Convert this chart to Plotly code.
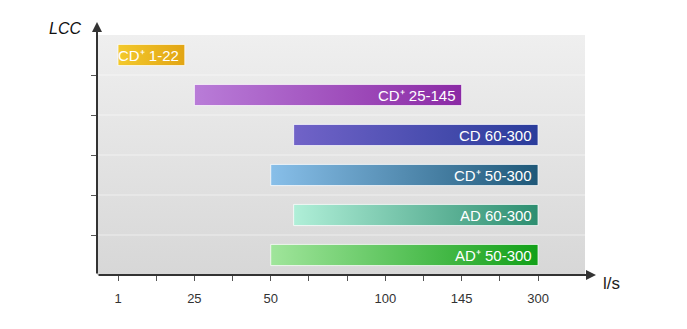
import numpy as np
import plotly.graph_objects as go

# Air-flow range of each unit (l/s)
units = ["CD⁺ 1-22", "CD⁺ 25-145", "CD 60-300", "CD⁺ 50-300", "AD 60-300", "AD⁺ 50-300"]
flow_min = [1, 25, 60, 50, 60, 50]
flow_max = [22, 145, 300, 300, 300, 300]

# Labelled flow values on the horizontal axis
tick_values = [1, 25, 50, 100, 145, 300]

# Non-uniform axis: each labelled value sits on one of 12 evenly spaced ticks
tick_slots = [0, 2, 4, 7, 9, 11]
n_slots = 12

bar_colors = [
    ("#f3c92c", "#e2a514"),
    ("#b97cd8", "#8b2aa5"),
    ("#7163c8", "#2a3c9b"),
    ("#88bfe9", "#1f5878"),
    ("#b0efd8", "#2d8e70"),
    ("#a0e59b", "#12a018"),
]


def to_axis(v):
    return float(np.interp(v, tick_values, tick_slots))


X_RANGE = [-0.55, 12.23]
Y_RANGE = [-0.5, 5.5]
HALF_H = 0.265

fig = go.Figure()

# plot-area background: soft vertical grey gradient
fig.add_trace(go.Scatter(
    x=[X_RANGE[0], X_RANGE[1], X_RANGE[1], X_RANGE[0], X_RANGE[0]],
    y=[Y_RANGE[0], Y_RANGE[0], Y_RANGE[1], Y_RANGE[1], Y_RANGE[0]],
    mode="lines", line=dict(width=0), fill="toself",
    fillgradient=dict(type="vertical", colorscale=[[0, "#d7d7d7"], [1, "#efefef"]]),
    hoverinfo="skip", showlegend=False,
))

# faint row separators
for k in range(1, len(units)):
    yb = k - 0.5
    fig.add_trace(go.Scatter(
        x=[X_RANGE[0], X_RANGE[1]], y=[yb, yb], mode="lines",
        line=dict(color="rgba(255,255,255,0.5)", width=1),
        hoverinfo="skip", showlegend=False,
    ))

annotations = []
n = len(units)
for i, (name, lo, hi, (c0, c1)) in enumerate(zip(units, flow_min, flow_max, bar_colors)):
    row = n - 1 - i
    x0, x1 = to_axis(lo), to_axis(hi)
    y0, y1 = row - HALF_H, row + HALF_H
    fig.add_trace(go.Scatter(
        x=[x0, x1, x1, x0, x0], y=[y0, y0, y1, y1, y0],
        mode="lines", line=dict(color="rgba(255,255,255,0.75)", width=1),
        fill="toself",
        fillgradient=dict(type="horizontal", colorscale=[[0, c0], [1, c1]]),
        hoverinfo="skip", showlegend=False,
    ))
    annotations.append(dict(
        x=x1, y=row, xref="x", yref="y", text=name, showarrow=False,
        xanchor="right", yanchor="middle", xshift=-4,
        font=dict(family="Liberation Sans, Arial", size=15, color="white"),
    ))

# axis arrows
annotations.append(dict(
    x=0, y=(275 - 22) / 240, xref="paper", yref="paper", ax=0, ay=253,
    axref="pixel", ayref="pixel", text="", showarrow=True,
    arrowhead=2, arrowsize=1, arrowwidth=2, arrowcolor="#333333",
))
annotations.append(dict(
    x=(596 - 97) / 488, y=0, xref="paper", yref="paper", ax=-499, ay=0,
    axref="pixel", ayref="pixel", text="", showarrow=True,
    arrowhead=2, arrowsize=1, arrowwidth=2, arrowcolor="#333333",
))

# axis titles
annotations.append(dict(
    x=(611 - 97) / 488, y=(275 - 283) / 240, xref="paper", yref="paper",
    text="l/s", showarrow=False, xanchor="center", yanchor="middle",
    font=dict(family="Liberation Sans, Arial", size=17, color="#222222"),
))
annotations.append(dict(
    x=(65 - 97) / 488, y=(275 - 28) / 240, xref="paper", yref="paper",
    text="<i>LCC</i>", showarrow=False, xanchor="center", yanchor="middle",
    font=dict(family="Liberation Sans, Arial", size=16, color="#111111"),
))

slot_text = [""] * n_slots
for v, s in zip(tick_values, tick_slots):
    slot_text[s] = str(v)

fig.update_layout(
    width=687, height=329,
    margin=dict(l=97, r=102, t=35, b=54),
    paper_bgcolor="white", plot_bgcolor="white",
    showlegend=False,
    annotations=annotations,
    xaxis=dict(
        range=X_RANGE, showgrid=False, zeroline=False, showline=False,
        tickmode="array", tickvals=list(range(n_slots)), ticktext=slot_text,
        ticks="outside", ticklen=5, tickwidth=1, tickcolor="#555555",
        ticklabelstandoff=6,
        tickfont=dict(family="Liberation Sans, Arial", size=13, color="#333333"),
        fixedrange=True,
    ),
    yaxis=dict(
        range=Y_RANGE, showgrid=False, zeroline=False, showline=False,
        tickmode="array", tickvals=[k + 0.5 for k in range(n - 1)],
        ticktext=[""] * (n - 1),
        ticks="outside", ticklen=5, tickwidth=1, tickcolor="#555555",
        fixedrange=True,
    ),
)

fig.write_html("out.html")
